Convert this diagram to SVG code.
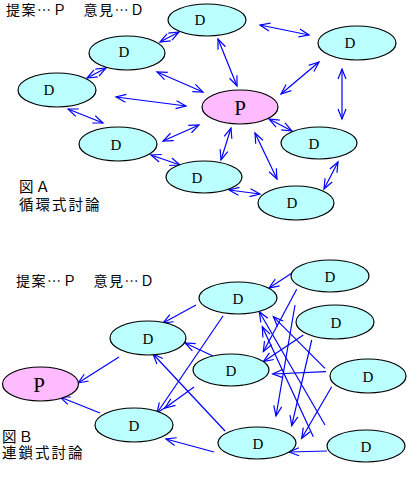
<svg xmlns="http://www.w3.org/2000/svg" width="418" height="480" viewBox="0 0 418 480">
<style>
.d{fill:#BBFFFF;stroke:#000;stroke-width:1.2}
.p{fill:#FFBBFF;stroke:#000;stroke-width:1.2}
.t{font-family:"Liberation Serif",serif;font-size:15px;text-anchor:middle;fill:#000}
.tp{font-family:"Liberation Serif",serif;font-size:21px;text-anchor:middle;fill:#000}
.j{font-family:"Noto Sans CJK JP",sans-serif;fill:#000}
.h{font-size:14px;letter-spacing:1.5px}
.cap{font-size:14.5px;letter-spacing:2px}
.c line{stroke:#0000FF;stroke-width:1.2;fill:none}
.a2 line{marker-start:url(#ah);marker-end:url(#ah)}
.a1 line{marker-end:url(#ah)}
</style>
<defs>
<marker id="ah" markerUnits="userSpaceOnUse" markerWidth="14" markerHeight="12" refX="0" refY="0" viewBox="-11 -6 12 12" orient="auto-start-reverse" overflow="visible">
<path d="M-10,-4 L0,0 L-10,4" fill="none" stroke="#0000FF" stroke-width="1.2"/>
</marker>
</defs>
<rect width="418" height="480" fill="#fff"/>

<g id="textA">
<text class="j h" x="6" y="15">提案…Ｐ　意見…Ｄ</text>
<text class="j cap" x="19" y="192">図Ａ</text>
<text class="j cap" x="19" y="210">循環式討論</text>
</g>

<g id="connectorsA" class="c a2">
<line x1="160" y1="42" x2="179" y2="32"/>
<line x1="260" y1="25" x2="309" y2="35"/>
<line x1="218" y1="39" x2="237" y2="86"/>
<line x1="319" y1="62" x2="281" y2="94"/>
<line x1="342" y1="69" x2="342" y2="119"/>
<line x1="106" y1="68" x2="87" y2="78"/>
<line x1="157" y1="72" x2="203" y2="92"/>
<line x1="116" y1="97" x2="186" y2="106"/>
<line x1="68" y1="109" x2="103" y2="123"/>
<line x1="199" y1="125" x2="163" y2="141"/>
<line x1="231" y1="128" x2="221" y2="160"/>
<line x1="255" y1="133" x2="277" y2="179"/>
<line x1="269" y1="119" x2="292" y2="131"/>
<line x1="338" y1="162" x2="324" y2="189"/>
<line x1="151" y1="155" x2="180" y2="165"/>
<line x1="229" y1="190" x2="260" y2="194"/>
</g>

<g id="A-D1"><ellipse class="d" cx="207" cy="20" rx="39" ry="16"/><text class="t" x="200" y="25">D</text></g>
<g id="A-D2"><ellipse class="d" cx="357" cy="43" rx="39" ry="17"/><text class="t" x="350" y="48">D</text></g>
<g id="A-D3"><ellipse class="d" cx="127" cy="53" rx="38" ry="17"/><text class="t" x="124" y="57">D</text></g>
<g id="A-D4"><ellipse class="d" cx="57" cy="90" rx="39" ry="17"/><text class="t" x="49" y="95">D</text></g>
<g id="A-P"><ellipse class="p" cx="240" cy="107" rx="38" ry="17"/><text class="tp" x="240" y="115">P</text></g>
<g id="A-D6"><ellipse class="d" cx="118" cy="144" rx="39" ry="17"/><text class="t" x="116" y="150">D</text></g>
<g id="A-D7"><ellipse class="d" cx="319" cy="143" rx="38" ry="16"/><text class="t" x="314" y="149">D</text></g>
<g id="A-D8"><ellipse class="d" cx="204" cy="177" rx="38" ry="16"/><text class="t" x="197" y="183">D</text></g>
<g id="A-D9"><ellipse class="d" cx="296" cy="203" rx="38" ry="17"/><text class="t" x="292" y="208">D</text></g>

<g id="textB">
<text class="j h" x="16" y="286">提案…Ｐ　意見…Ｄ</text>
<text class="j cap" x="2" y="442">図Ｂ</text>
<text class="j cap" x="2" y="458">連鎖式討論</text>
</g>

<g id="connectorsB" class="c a1">
<line x1="292" y1="273" x2="269" y2="288"/>
<line x1="196" y1="305" x2="163" y2="323"/>
<line x1="119" y1="357" x2="78" y2="383"/>
<line x1="100" y1="413" x2="60" y2="397"/>
<line x1="214" y1="452" x2="166" y2="439"/>
<line x1="327" y1="451" x2="289" y2="452"/>
<line x1="213" y1="356" x2="185" y2="343"/>
<line x1="223" y1="316" x2="157" y2="413"/>
<line x1="225" y1="431" x2="153" y2="354"/>
<line x1="194" y1="387" x2="165" y2="408"/>
<line x1="296.7" y1="289.3" x2="263.3" y2="351.7"/>
<line x1="295" y1="305" x2="276" y2="416"/>
<line x1="303.3" y1="335" x2="263.3" y2="361.7"/>
<line x1="311.7" y1="340" x2="291.7" y2="425.7"/>
<line x1="326" y1="371.7" x2="272.7" y2="374"/>
<line x1="325" y1="368.3" x2="273.3" y2="316.7"/>
<line x1="325" y1="425" x2="259.3" y2="311.7"/>
<line x1="313.3" y1="436.7" x2="262.3" y2="326.7"/>
<line x1="331.7" y1="386.7" x2="301.7" y2="438.3"/>
</g>

<g id="B-P"><ellipse class="p" cx="40.5" cy="384" rx="38" ry="17"/><text class="tp" x="39" y="392">P</text></g>
<g id="B-D1"><ellipse class="d" cx="148" cy="338" rx="38" ry="17"/><text class="t" x="148" y="344">D</text></g>
<g id="B-D2"><ellipse class="d" cx="238" cy="298" rx="39" ry="16"/><text class="t" x="238" y="304">D</text></g>
<g id="B-D3"><ellipse class="d" cx="231" cy="370" rx="38" ry="16"/><text class="t" x="231" y="376">D</text></g>
<g id="B-D4"><ellipse class="d" cx="134" cy="425" rx="39" ry="17"/><text class="t" x="134" y="431">D</text></g>
<g id="B-D5"><ellipse class="d" cx="257" cy="443" rx="39" ry="16"/><text class="t" x="258" y="449">D</text></g>
<g id="B-D6"><ellipse class="d" cx="330" cy="276" rx="39" ry="16"/><text class="t" x="330" y="282">D</text></g>
<g id="B-D7"><ellipse class="d" cx="335" cy="322" rx="39" ry="17"/><text class="t" x="336" y="328">D</text></g>
<g id="B-D8"><ellipse class="d" cx="368" cy="376" rx="38" ry="17"/><text class="t" x="368" y="382">D</text></g>
<g id="B-D9"><ellipse class="d" cx="366" cy="446" rx="39" ry="16"/><text class="t" x="366" y="452">D</text></g>
</svg>
